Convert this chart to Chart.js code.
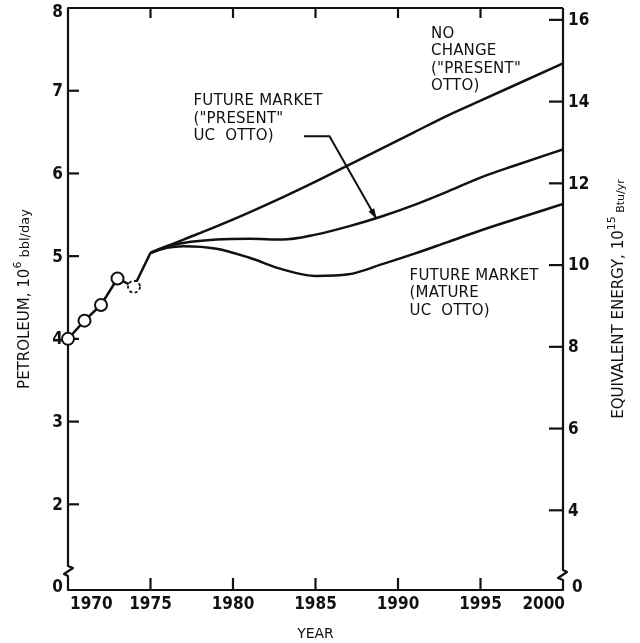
<!DOCTYPE html>
<html>
  <head>
    <script src="https://cdn.jsdelivr.net/npm/chart.js"></script>
    <style>
      body { margin: 0; background: #fff; }
      #wrap { width: 640px; height: 643px; position: relative; }
    </style>
  </head>
  <body>
    <div id="wrap"><canvas id="chart"></canvas></div>

    <script>
      // historical points (1974 is the dashed, estimated one)
      const histYears = [1970, 1971, 1972, 1973, 1974];
      const histValues = [4.0, 4.22, 4.41, 4.73, 4.63];

      // projections, 10^6 bbl/day
      const projYears = [1975, 1976, 1977, 1979, 1981, 1983, 1985, 1987, 1989, 1991, 1993, 1995, 1997, 2000];
      const noChange  = [5.04, 5.12, 5.20, 5.36, 5.53, 5.71, 5.90, 6.10, 6.30, 6.50, 6.70, 6.88, 7.06, 7.33];
      const presentUC = [5.04, 5.12, 5.16, 5.20, 5.21, 5.20, 5.26, 5.36, 5.48, 5.62, 5.78, 5.95, 6.09, 6.29];
      const matureUC  = [5.04, 5.10, 5.12, 5.09, 4.98, 4.84, 4.76, 4.78, 4.90, 5.03, 5.17, 5.31, 5.44, 5.63];

      const xTicks = [1970, 1975, 1980, 1985, 1990, 1995, 2000];
      const leftTicks = [2, 3, 4, 5, 6, 7, 8];
      const rightTicks = [4, 6, 8, 10, 12, 14, 16];

      const INK = "#111";
      const tickFont = "bold 17px 'Liberation Sans Narrow', 'DejaVu Sans Condensed', sans-serif";
      const noteFont = "15px 'DejaVu Sans', sans-serif";

      function pts(xs, ys) {
        return xs.map((x, i) => ({ x: x, y: ys[i] }));
      }

      function line(ctx, coords) {
        ctx.beginPath();
        ctx.moveTo(coords[0][0], coords[0][1]);
        for (let i = 1; i < coords.length; i++) ctx.lineTo(coords[i][0], coords[i][1]);
        ctx.stroke();
      }

      function rotatedTitle(ctx, cx, cy, parts) {
        let total = 0;
        parts.forEach(p => { ctx.font = p.font; total += ctx.measureText(p.text).width; });
        ctx.save();
        ctx.translate(cx, cy);
        ctx.rotate(-Math.PI / 2);
        ctx.textAlign = "left";
        ctx.textBaseline = "alphabetic";
        let x = -total / 2;
        parts.forEach(p => {
          ctx.font = p.font;
          ctx.fillText(p.text, x, p.dy || 0);
          x += ctx.measureText(p.text).width;
        });
        ctx.restore();
      }

      const axesPlugin = {
        id: "axesPlugin",
        beforeDatasetsDraw(chart) {
          const { ctx, chartArea: a, scales } = chart;
          const xs = scales.x, yl = scales.y, yr = scales.y2;
          ctx.save();
          ctx.strokeStyle = INK;
          ctx.lineWidth = 2.2;
          ctx.lineJoin = "round";
          // frame with axis breaks near the bottom
          const lb = a.bottom - 20, rb = a.bottom - 16;
          line(ctx, [[a.right, a.top], [a.left, a.top], [a.left, lb - 4], [a.left + 5, lb - 2],
                     [a.left - 4, lb + 4], [a.left, lb + 6], [a.left, a.bottom], [a.right, a.bottom],
                     [a.right, rb + 6], [a.right - 5, rb + 4], [a.right + 4, rb - 2], [a.right, rb - 4], [a.right, a.top]]);
          // inward tick marks
          xTicks.slice(1, -1).forEach(v => {
            const px = xs.getPixelForValue(v);
            line(ctx, [[px, a.bottom], [px, a.bottom - 12]]);
            line(ctx, [[px, a.top], [px, a.top + 10]]);
          });
          leftTicks.slice(0, -1).forEach(v => {
            const py = yl.getPixelForValue(v);
            line(ctx, [[a.left, py], [a.left + 11, py]]);
          });
          rightTicks.forEach(v => {
            const py = yr.getPixelForValue(v);
            line(ctx, [[a.right, py], [a.right - 14, py]]);
          });

          // tick labels
          ctx.fillStyle = INK;
          ctx.font = tickFont;
          ctx.textBaseline = "middle";
          xTicks.forEach((v, i) => {
            ctx.textAlign = i === 0 ? "left" : (i === xTicks.length - 1 ? "right" : "center");
            let px = xs.getPixelForValue(v);
            if (i === 0) px += 2;
            if (i === xTicks.length - 1) px += 2;
            ctx.fillText(String(v), px, a.bottom + 15);
          });
          ctx.textAlign = "right";
          leftTicks.forEach(v => ctx.fillText(String(v), a.left - 5, yl.getPixelForValue(v) + (v === 8 ? 5 : 1)));
          ctx.fillText("0", a.left - 5, a.bottom - 2);
          ctx.textAlign = "left";
          rightTicks.forEach(v => ctx.fillText(String(v), a.right + 5, yr.getPixelForValue(v) + 1));
          ctx.fillText("0", a.right + 9, a.bottom - 2);

          // axis titles
          ctx.font = "14px 'DejaVu Sans', sans-serif";
          ctx.textAlign = "center";
          ctx.fillText("YEAR", (a.left + a.right) / 2, a.bottom + 44);

          const big = "15px 'DejaVu Sans', sans-serif";
          const sup = "11px 'DejaVu Sans', sans-serif";
          const small = "13px 'DejaVu Sans', sans-serif";
          rotatedTitle(ctx, 29, (a.top + a.bottom) / 2, [
            { text: "PETROLEUM, 10", font: big },
            { text: "6", font: sup, dy: -8 },
            { text: " bbl/day", font: small }
          ]);
          rotatedTitle(ctx, 623, (a.top + a.bottom) / 2, [
            { text: "EQUIVALENT ENERGY, 10", font: big },
            { text: "15", font: sup, dy: -8 },
            { text: " Btu/yr", font: "11px 'DejaVu Sans', sans-serif", dy: 1 }
          ]);
          ctx.restore();
        },
        afterDatasetsDraw(chart) {
          const { ctx, scales } = chart;
          const xs = scales.x, yl = scales.y;
          ctx.save();
          // dashed circle for the 1974 estimate
          const last = chart.getDatasetMeta(0).data[histYears.length - 1];
          ctx.beginPath();
          ctx.arc(last.x, last.y, 6, 0, Math.PI * 2);
          ctx.fillStyle = "#fff";
          ctx.fill();
          ctx.setLineDash([3, 2.5]);
          ctx.lineWidth = 1.8;
          ctx.strokeStyle = INK;
          ctx.stroke();
          ctx.setLineDash([]);

          // curve labels
          ctx.fillStyle = INK;
          ctx.font = noteFont;
          ctx.letterSpacing = "0.2px";
          ctx.textAlign = "left";
          ctx.textBaseline = "middle";
          const note = (year, val, lines) => {
            const x = xs.getPixelForValue(year), y = yl.getPixelForValue(val);
            lines.forEach((t, i) => ctx.fillText(t, x, y + i * 17.5));
          };
          note(1992.0, 7.69, ["NO", "CHANGE", "(\"PRESENT\"", "OTTO)"]);
          note(1977.6, 6.87, ["FUTURE MARKET", "(\"PRESENT\"", "UC  OTTO)"]);
          note(1990.7, 4.76, ["FUTURE MARKET", "(MATURE", "UC  OTTO)"]);

          // arrow to the "present" UC Otto curve
          const p0 = [xs.getPixelForValue(1984.3), yl.getPixelForValue(6.45)];
          const p1 = [xs.getPixelForValue(1985.85), yl.getPixelForValue(6.45)];
          const p2 = [xs.getPixelForValue(1988.7), yl.getPixelForValue(5.45)];
          ctx.lineWidth = 2;
          line(ctx, [p0, p1, p2]);
          const ang = Math.atan2(p2[1] - p1[1], p2[0] - p1[0]);
          ctx.beginPath();
          ctx.moveTo(p2[0], p2[1]);
          ctx.lineTo(p2[0] - 11 * Math.cos(ang - 0.3), p2[1] - 11 * Math.sin(ang - 0.3));
          ctx.lineTo(p2[0] - 11 * Math.cos(ang + 0.3), p2[1] - 11 * Math.sin(ang + 0.3));
          ctx.closePath();
          ctx.fill();
          ctx.restore();
        }
      };

      const curve = (data) => ({
        data: data,
        borderColor: INK,
        borderWidth: 2.5,
        pointRadius: 0,
        cubicInterpolationMode: "monotone",
        fill: false
      });

      new Chart(document.getElementById("chart"), {
        type: "line",
        data: {
          datasets: [
            {
              data: pts(histYears, histValues),
              borderColor: INK,
              borderWidth: 2.5,
              pointRadius: histYears.map((y, i) => i === histYears.length - 1 ? 0 : 6),
              pointBackgroundColor: "#fff",
              pointBorderColor: INK,
              pointBorderWidth: 2,
              clip: false
            },
            {
              // 1974 -> 1975 link into the projections
              data: [{ x: histYears[histYears.length - 1], y: histValues[histValues.length - 1] },
                     { x: projYears[0], y: noChange[0] }],
              borderColor: INK,
              borderWidth: 2.5,
              pointRadius: 0
            },
            curve(pts(projYears, noChange)),
            curve(pts(projYears, presentUC)),
            curve(pts(projYears, matureUC))
          ]
        },
        options: {
          responsive: true,
          maintainAspectRatio: false,
          animation: false,
          layout: { padding: { left: 68, right: 77, top: 6, bottom: 53 } },
          plugins: { legend: { display: false }, tooltip: { enabled: false } },
          scales: {
            x: { type: "linear", min: 1970, max: 2000, display: false },
            // broken axes: the bottom edge is labelled 0
            y: { min: 0.964, max: 8, display: false },
            y2: { min: 2.05, max: 16.29, display: false, position: "right" }
          }
        },
        plugins: [axesPlugin]
      });
    </script>
  </body>
</html>
